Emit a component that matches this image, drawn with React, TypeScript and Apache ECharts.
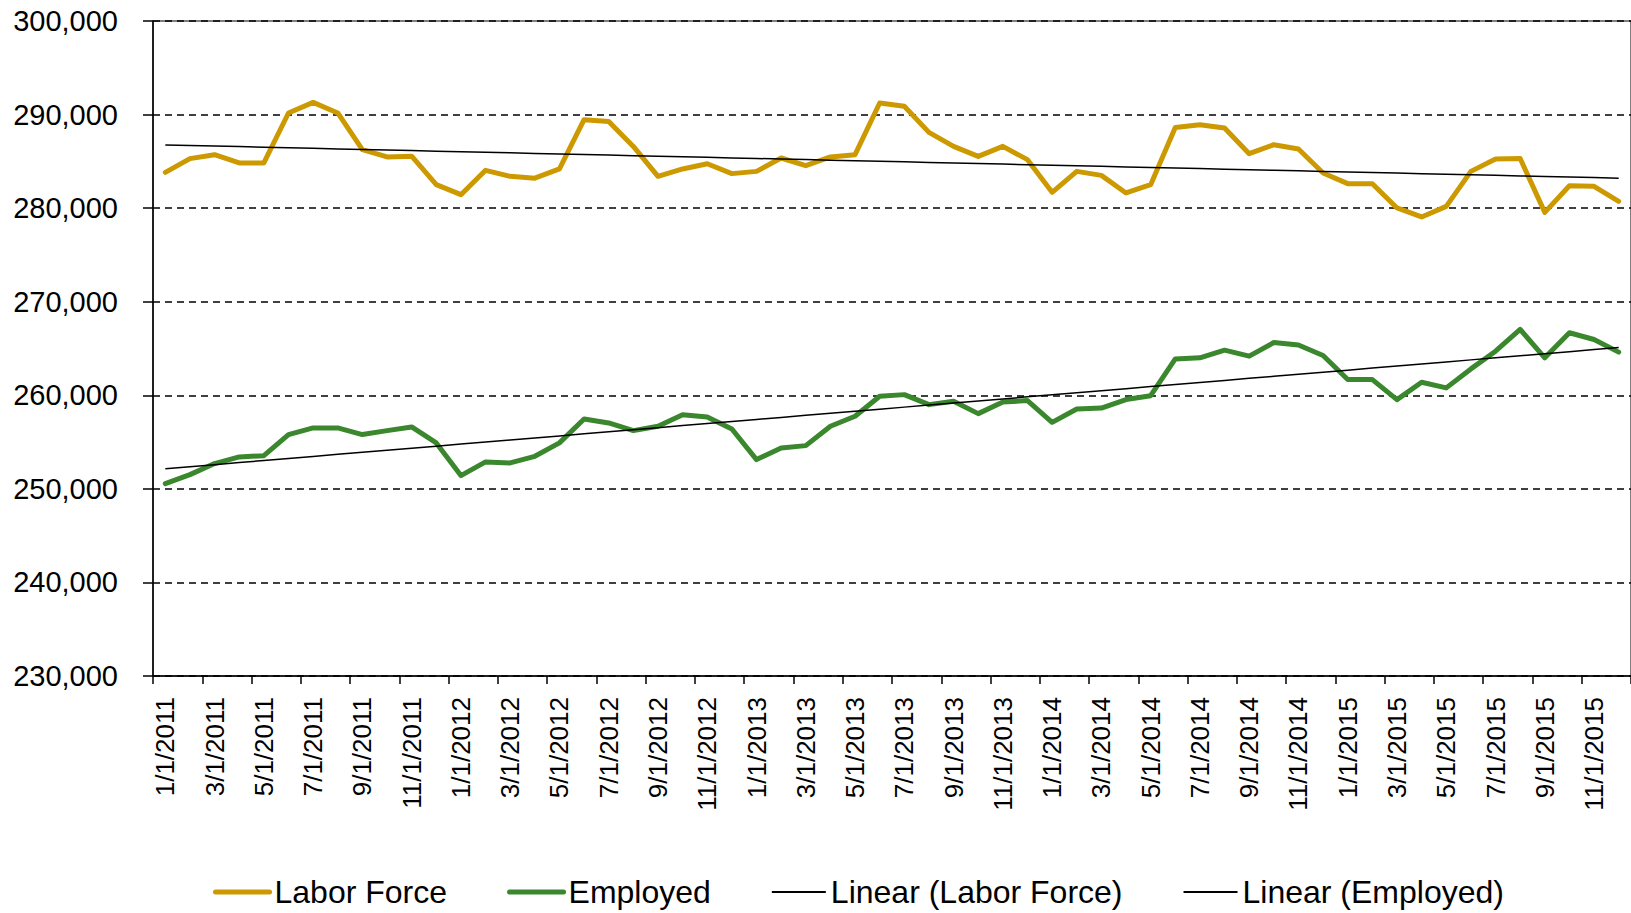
import React, { useEffect, useRef } from "react";
import * as echarts from "echarts";

const categories = [
  "1/1/2011", "2/1/2011", "3/1/2011", "4/1/2011", "5/1/2011", "6/1/2011", "7/1/2011", "8/1/2011", "9/1/2011", "10/1/2011", "11/1/2011", "12/1/2011",
  "1/1/2012", "2/1/2012", "3/1/2012", "4/1/2012", "5/1/2012", "6/1/2012", "7/1/2012", "8/1/2012", "9/1/2012", "10/1/2012", "11/1/2012", "12/1/2012",
  "1/1/2013", "2/1/2013", "3/1/2013", "4/1/2013", "5/1/2013", "6/1/2013", "7/1/2013", "8/1/2013", "9/1/2013", "10/1/2013", "11/1/2013", "12/1/2013",
  "1/1/2014", "2/1/2014", "3/1/2014", "4/1/2014", "5/1/2014", "6/1/2014", "7/1/2014", "8/1/2014", "9/1/2014", "10/1/2014", "11/1/2014", "12/1/2014",
  "1/1/2015", "2/1/2015", "3/1/2015", "4/1/2015", "5/1/2015", "6/1/2015", "7/1/2015", "8/1/2015", "9/1/2015", "10/1/2015", "11/1/2015", "12/1/2015",
];

const laborForce = [
  283825, 285290, 285716, 284830, 284830, 290170, 291300, 290170, 286250, 285470,
  285550, 282510, 281440, 284040, 283400, 283200, 284190, 289455, 289270, 286600,
  283400, 284190, 284750, 283690, 283930, 285360, 284540, 285470, 285716, 291240,
  290880, 288100, 286600, 285530, 286600, 285180, 281690, 283930, 283500, 281620,
  282510, 288630, 288920, 288570, 285820, 286780, 286320, 283760, 282620, 282600,
  280020, 279060, 280190, 283930, 285260, 285300, 279550, 282400, 282330, 280730,
];

const employed = [
  250560, 251520, 252700, 253410, 253550, 255800, 256510, 256510, 255800, 256220,
  256620, 254910, 251420, 252880, 252770, 253480, 254910, 257470, 257040, 256220,
  256690, 257930, 257690, 256400, 253130, 254370, 254620, 256690, 257760, 259890,
  260070, 259000, 259360, 258040, 259290, 259430, 257110, 258540, 258640, 259540,
  259960, 263890, 264000, 264820, 264180, 265640, 265380, 264250, 261680, 261680,
  259540, 261390, 260790, 262820, 264710, 267040, 264000, 266680, 265960, 264610,
];

const seriesNames = ["Labor Force", "Employed", "Linear (Labor Force)", "Linear (Employed)"];
const yTicks = { min: 230000, max: 300000, interval: 10000 };

function linearTrend(values: number[]): number[] {
  const n = values.length;
  let sx = 0, sy = 0, sxy = 0, sxx = 0;
  values.forEach((v, i) => {
    sx += i; sy += v; sxy += i * v; sxx += i * i;
  });
  const slope = (n * sxy - sx * sy) / (n * sxx - sx * sx);
  const intercept = (sy - slope * sx) / n;
  return values.map((_, i) => intercept + slope * i);
}

const FONT = "'Liberation Sans', Arial, sans-serif";
const GOLD = "#CC9A00";
const GREEN = "#3B872E";

export default function App() {
  const ref = useRef<HTMLDivElement>(null);
  useEffect(() => {
    if (!ref.current) return;
    const chart = echarts.init(ref.current, null, { renderer: "svg" });
    const option = {
      animation: false,
      backgroundColor: "#fff",
      textStyle: { fontFamily: FONT },
      grid: {
        left: 153, right: 0, top: 21, bottom: 237,
        show: true, borderColor: "#000", borderWidth: 1,
      },
      legend: {
        left: 208,
        top: 871,
        itemWidth: 54,
        itemHeight: 14,
        itemGap: 60,
        itemStyle: { opacity: 0, borderWidth: 0 },
        textStyle: { fontSize: 32, color: "#000", fontFamily: FONT },
        data: [
          { name: seriesNames[0], lineStyle: { width: 5, color: GOLD, cap: "round" } },
          { name: seriesNames[1], lineStyle: { width: 5, color: GREEN, cap: "round" } },
          { name: seriesNames[2], lineStyle: { width: 2, color: "#000" } },
          { name: seriesNames[3], lineStyle: { width: 2, color: "#000" } },
        ],
      },
      xAxis: {
        type: "category",
        data: categories,
        boundaryGap: true,
        axisLine: { lineStyle: { color: "#000", width: 1.5 } },
        axisTick: { show: true, interval: 1, length: 8, lineStyle: { color: "#000", width: 1.5 } },
        axisLabel: {
          interval: 1,
          rotate: 90,
          margin: 21,
          fontSize: 26,
          color: "#000",
          fontFamily: FONT,
        },
        splitLine: { show: false },
      },
      yAxis: {
        type: "value",
        min: yTicks.min,
        max: yTicks.max,
        interval: yTicks.interval,
        axisLine: { show: true, lineStyle: { color: "#000", width: 1.5 } },
        axisTick: { show: true, length: 10, lineStyle: { color: "#000", width: 1.5 } },
        axisLabel: {
          margin: 35,
          fontSize: 29,
          color: "#000",
          fontFamily: FONT,
          formatter: (v: number) => v.toLocaleString("en-US"),
        },
        splitLine: { show: true, lineStyle: { color: "#000", width: 1.5, type: [7, 5] } },
      },
      series: [
        {
          name: seriesNames[0], type: "line", data: laborForce, symbol: "none",
          itemStyle: { color: GOLD },
          lineStyle: { color: GOLD, width: 5, cap: "round", join: "round" },
        },
        {
          name: seriesNames[1], type: "line", data: employed, symbol: "none",
          itemStyle: { color: GREEN },
          lineStyle: { color: GREEN, width: 5, cap: "round", join: "round" },
        },
        {
          name: seriesNames[2], type: "line", data: linearTrend(laborForce), symbol: "none",
          itemStyle: { color: "#000" },
          lineStyle: { color: "#000", width: 1.5 },
        },
        {
          name: seriesNames[3], type: "line", data: linearTrend(employed), symbol: "none",
          itemStyle: { color: "#000" },
          lineStyle: { color: "#000", width: 1.5 },
        },
      ],
    };
    chart.setOption(option as any);
    return () => chart.dispose();
  }, []);
  return (
    <div
      ref={ref}
      style={{ position: "absolute", left: 0, top: 0, width: 1631, height: 913 }}
    />
  );
}
